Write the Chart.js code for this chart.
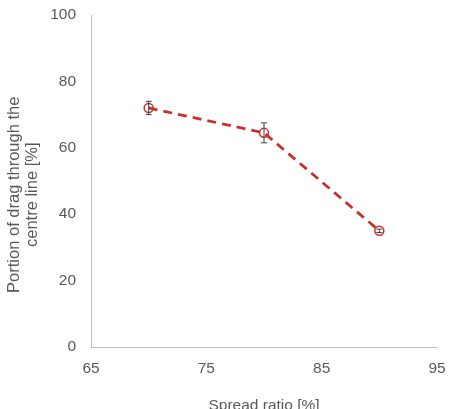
<!DOCTYPE html>
<html>
<head>
<meta charset="utf-8">
<script src="https://cdn.jsdelivr.net/npm/chart.js@4.4.0/dist/chart.umd.min.js"></script>
<style>
  html, body { margin: 0; padding: 0; background: #fff; overflow: hidden; }
  #wrap { width: 460px; height: 418px; position: relative; }
</style>
</head>
<body>
<div id="wrap"><canvas id="myChart"></canvas></div>
<script>
// data
const spreadRatio = [70, 80, 90];
const dragPortion = [72, 64.5, 35];
const dragError = [2, 3, 0.5];
const xTicks = [65, 75, 85, 95];
const yTicks = [0, 20, 40, 60, 80, 100];

const red = '#C9302A';
const grey = '#595959';

// error bars, drawn through the chart's own scales
const errorBars = {
  id: 'errorBars',
  afterDatasetsDraw(chart) {
    const ctx = chart.ctx;
    const xs = chart.scales.x, ys = chart.scales.y;
    ctx.save();
    ctx.strokeStyle = '#404040';
    ctx.lineWidth = 1;
    for (let i = 0; i < spreadRatio.length; i++) {
      const px = xs.getPixelForValue(spreadRatio[i]);
      const top = ys.getPixelForValue(dragPortion[i] + dragError[i]);
      const bot = ys.getPixelForValue(dragPortion[i] - dragError[i]);
      ctx.beginPath();
      ctx.moveTo(px, top); ctx.lineTo(px, bot);
      ctx.moveTo(px - 3, top); ctx.lineTo(px + 3, top);
      ctx.moveTo(px - 3, bot); ctx.lineTo(px + 3, bot);
      ctx.stroke();
    }
    ctx.restore();
  }
};

const ctx = document.getElementById('myChart').getContext('2d');
const chart = new Chart(ctx, {
  type: 'scatter',
  data: {
    datasets: [{
      data: spreadRatio.map((x, i) => ({ x: x, y: dragPortion[i] })),
      showLine: true,
      borderColor: red,
      borderWidth: 2.75,
      borderDash: [9, 6],
      pointStyle: 'circle',
      pointRadius: 4.5,
      pointBorderWidth: 1.5,
      pointBorderColor: red,
      pointBackgroundColor: 'rgba(255,255,255,0)'
    }]
  },
  plugins: [errorBars],
  options: {
    responsive: true,
    maintainAspectRatio: false,
    animation: false,
    layout: { padding: { top: 15, right: 23, left: 0, bottom: 0 } },
    plugins: {
      legend: { display: false },
      tooltip: { enabled: false }
    },
    scales: {
      x: {
        type: 'linear',
        min: 65,
        max: 95,
        afterBuildTicks: axis => { axis.ticks = xTicks.map(v => ({ value: v })); },
        afterFit: axis => { axis.height = 71; },
        grid: { display: false, drawTicks: false },
        border: { display: true, color: '#BFBFBF', width: 1 },
        ticks: {
          padding: 12,
          color: grey,
          font: { family: 'Liberation Sans', size: 15.5 }
        },
        title: {
          display: true,
          text: 'Spread ratio [%]',
          color: grey,
          padding: { top: 10, bottom: 3 },
          font: { family: 'Liberation Sans', size: 15.5 }
        }
      },
      y: {
        min: 0,
        max: 100,
        afterBuildTicks: axis => { axis.ticks = yTicks.map(v => ({ value: v })); },
        afterFit: axis => {
          axis.width = 91;
          axis.paddingTop = 0;
          axis.paddingBottom = 0;
        },
        grid: { display: false, drawTicks: false },
        border: { display: true, color: '#BFBFBF', width: 1 },
        ticks: {
          padding: 15,
          color: grey,
          font: { family: 'Liberation Sans', size: 15.5 }
        },
        title: {
          display: true,
          // trailing spaces push the title a bit down, as in the original
          text: ['Portion of drag through the      ', 'centre line [%]      '],
          color: grey,
          padding: { top: 6, bottom: 0 },
          font: { family: 'Liberation Sans', size: 16.5, lineHeight: 1.05 }
        }
      }
    }
  }
});
</script>
</body>
</html>
